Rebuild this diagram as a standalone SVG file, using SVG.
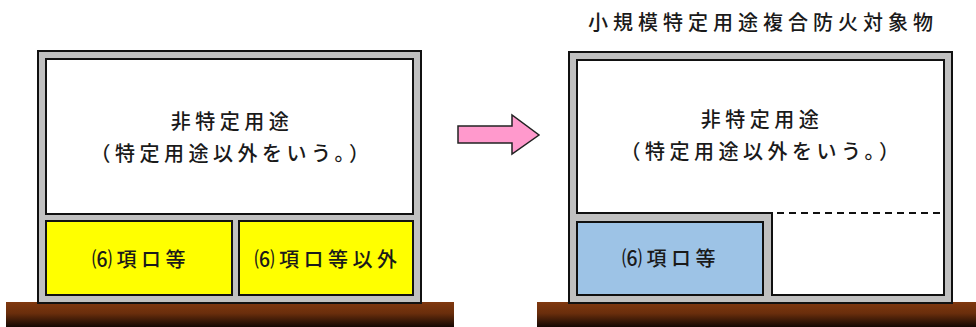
<svg xmlns="http://www.w3.org/2000/svg" width="976" height="327" viewBox="0 0 976 327">
<defs>
<linearGradient id="ground" x1="0" y1="0" x2="0" y2="1">
<stop offset="0" stop-color="#80380f"/>
<stop offset="0.45" stop-color="#6a2e0c"/>
<stop offset="1" stop-color="#140803"/>
</linearGradient>
<style>
.wall{fill:#c0c0c0;stroke:#111;stroke-width:2}
.room{stroke:#111;stroke-width:2}
.t{font-family:"Noto Sans CJK JP","Noto Sans",sans-serif;font-size:20px;font-weight:500;fill:#1a1a1a;text-anchor:middle;letter-spacing:4.5px}
</style>
</defs>
<rect x="6" y="302" width="448" height="25" fill="url(#ground)"/>
<rect x="537" y="302" width="439" height="25" fill="url(#ground)"/>
<g id="left-building">
<rect class="wall" x="38" y="51" width="383" height="252"/>
<rect class="room" x="46" y="59" width="367" height="155" fill="#fff"/>
<text class="t" x="232" y="129">非特定用途</text>
<text class="t" x="232" y="161">（特定用途以外をいう。）</text>
</g>
<g id="left-6ro">
<rect class="room" x="46" y="221" width="186" height="74" fill="#ffff00"/>
<text class="t" x="141" y="267">⑹項ロ等</text>
</g>
<g id="left-other">
<rect class="room" x="239" y="221" width="174" height="74" fill="#ffff00"/>
<text class="t" x="328" y="267">⑹項ロ等以外</text>
</g>
<g id="connectors">
<polygon points="458,126 512,126 512,115 539,135 512,154 512,143 458,143" fill="#ff99cc" stroke="#222" stroke-width="1.5" stroke-linejoin="miter"/>
</g>
<g id="right-building">
<text class="t" x="763" y="30" style="letter-spacing:5px">小規模特定用途複合防火対象物</text>
<rect class="wall" x="569" y="52" width="383" height="251"/>
<polygon class="room" points="577,60 944,60 944,295 772,295 772,213 577,213" fill="#fff"/>
<line x1="765" y1="213" x2="944" y2="213" stroke="#111" stroke-width="2" stroke-dasharray="7,5"/>
<rect x="763" y="214" width="8" height="88" fill="#c0c0c0"/>
<text class="t" x="762" y="127">非特定用途</text>
<text class="t" x="762" y="159">（特定用途以外をいう。）</text>
</g>
<g id="right-6ro">
<rect class="room" x="577" y="222" width="186" height="73" fill="#9dc3e6"/>
<text class="t" x="671" y="266">⑹項ロ等</text>
</g>
</svg>
